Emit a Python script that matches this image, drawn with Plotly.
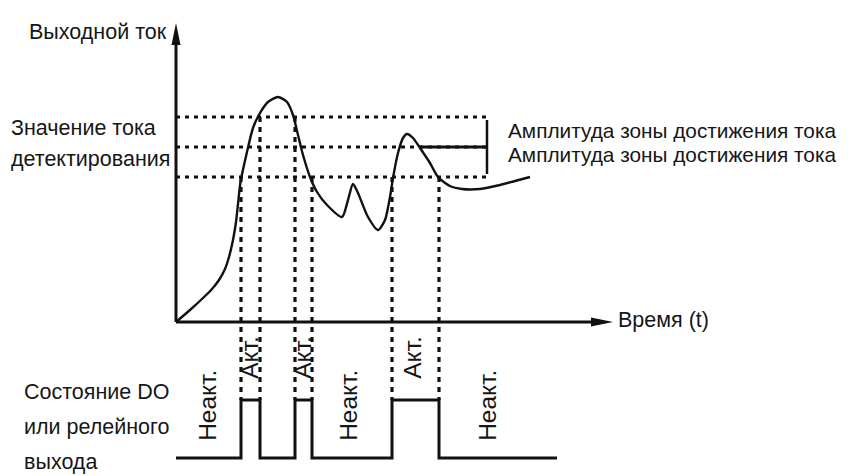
import plotly.graph_objects as go

# ---- data -----------------------------------------------------------------
# output current vs. time (arbitrary units; origin at the axes crossing)
t_curve = [0.0, 1.4, 2.7, 3.6, 4.3, 4.9, 5.3, 5.7, 6.0, 6.2, 6.45, 7.1, 7.7,
           8.4, 9.2, 10.2, 11.1, 11.7, 12.2, 12.7, 13.4, 14.1, 15.1, 16.6,
           17.2, 17.7, 18.2, 19.2, 20.2, 20.9, 21.4, 21.7, 22.2, 22.7, 23.1,
           23.7, 24.4, 25.4, 26.2, 27.4, 28.6, 30.4, 32.4, 33.9, 35.4]
i_curve = [0.0, 1.2, 2.4, 3.3, 4.2, 5.3, 6.5, 8.2, 10.0, 11.8, 14.0, 17.0,
           19.4, 20.9, 22.0, 22.5, 22.0, 20.7, 18.7, 16.7, 14.5, 13.0, 11.7,
           10.5, 12.2, 13.8, 12.9, 10.5, 9.2, 10.2, 12.5, 14.4, 16.9, 18.4,
           18.8, 18.4, 17.4, 15.9, 14.5, 13.6, 13.3, 13.3, 13.7, 14.1, 14.5]

detect_level = 17.5      # detection current value
zone_amp = 3.0           # amplitude of the current-reached zone

# moments when the current enters / leaves the zone and the edge crossed
switch_t = [6.5, 8.4, 11.9, 13.6, 21.6, 26.3]
switch_edge = [-1, 1, 1, -1, -1, -1]   # -1 lower edge, +1 upper edge

# DO / relay output state
relay_t = [0.0, 6.5, 8.4, 11.9, 13.6, 21.6, 26.3, 38.1]
relay_state = [0, 1, 0, 1, 0, 1, 0, 0]

state_text = ["Неакт.", "Акт.", "Акт.", "Неакт.", "Акт.", "Неакт."]
state_t = [3.2, 7.4, 12.7, 17.3, 23.7, 31.2]
state_on = [0, 1, 1, 0, 1, 0]

zone_end_t = 31.4        # right end of the level lines
bar_t = 31.1             # amplitude bracket position
hold_start_t = 24.4      # solid part of the detection level
t_axis_end = 43.7
i_axis_end = 29.9

# ---- geometry of the canvas ----------------------------------------------
W, H = 851, 476
X_RANGE = [-17.6, 67.5]
Y_RANGE = [-15.4, 32.2]
Y2_RANGE = [-0.31, 7.9]

INK = "#111111"
TXT = "#161616"
FONT = "Liberation Sans, Arial, sans-serif"


def y2_to_y(v):
    frac = (v - Y2_RANGE[0]) / (Y2_RANGE[1] - Y2_RANGE[0])
    return Y_RANGE[0] + frac * (Y_RANGE[1] - Y_RANGE[0])


fig = go.Figure()

dot = dict(color=INK, width=3.2, dash="4px,5px")

# zone edges and detection level (dotted)
for lvl in (detect_level + zone_amp, detect_level, detect_level - zone_amp):
    fig.add_trace(go.Scatter(x=[0, zone_end_t], y=[lvl, lvl], mode="lines",
                             line=dot, hoverinfo="skip"))

# vertical projections down to the relay diagram
relay_hi_y = y2_to_y(1)
for t, edge in zip(switch_t, switch_edge):
    fig.add_trace(go.Scatter(x=[t, t],
                             y=[detect_level + edge * zone_amp, relay_hi_y],
                             mode="lines",
                             line=dict(color=INK, width=3.2, dash="5px,5px"),
                             hoverinfo="skip"))

# solid detection level segment and amplitude bracket
fig.add_trace(go.Scatter(x=[hold_start_t, bar_t], y=[detect_level, detect_level],
                         mode="lines", line=dict(color=INK, width=3),
                         hoverinfo="skip"))
fig.add_trace(go.Scatter(x=[bar_t, bar_t],
                         y=[detect_level - zone_amp + 0.3, detect_level + zone_amp - 0.3],
                         mode="lines", line=dict(color=INK, width=2.5),
                         hoverinfo="skip"))

# axes
fig.add_trace(go.Scatter(x=[0, 0], y=[0, i_axis_end - 2.0], mode="lines",
                         line=dict(color=INK, width=3), hoverinfo="skip"))
fig.add_trace(go.Scatter(x=[0, t_axis_end - 2.0], y=[0, 0], mode="lines",
                         line=dict(color=INK, width=3), hoverinfo="skip"))

# output current curve
fig.add_trace(go.Scatter(x=t_curve, y=i_curve, mode="lines",
                         line=dict(color=INK, width=2.4, shape="spline",
                                   smoothing=0.7),
                         hoverinfo="skip"))

# relay state
fig.add_trace(go.Scatter(x=relay_t, y=relay_state, yaxis="y2", mode="lines",
                         line=dict(color=INK, width=3, shape="hv"),
                         hoverinfo="skip"))

# arrowheads
fig.add_shape(type="path", xref="x", yref="y", line=dict(width=0),
              fillcolor=INK,
              path=f"M -0.45 {i_axis_end - 2.2} L 0 {i_axis_end} "
                   f"L 0.45 {i_axis_end - 2.2} Z")
fig.add_shape(type="path", xref="x", yref="y", line=dict(width=0),
              fillcolor=INK,
              path=f"M {t_axis_end - 2.2} -0.45 L {t_axis_end} 0 "
                   f"L {t_axis_end - 2.2} 0.45 Z")

# ---- text ----------------------------------------------------------------
def label(text, x, y, xanchor="left", size=21.5):
    fig.add_annotation(text=text, x=x, y=y, xref="x", yref="y",
                       xanchor=xanchor, yanchor="middle", showarrow=False,
                       font=dict(family=FONT, size=size, color=TXT))


label("Выходной ток", -0.7, 29.0, xanchor="right")
label("Значение тока", -16.7, 19.4)
label("детектирования", -16.7, 16.3)
label("Амплитуда зоны достижения тока", 33.0, 19.2, size=20.8)
label("Амплитуда зоны достижения тока", 33.0, 16.8, size=20.8)
label("Время (t)", 44.0, 0.2)
label("Состояние DO", -15.4, -7.0)
label("или релейного", -15.4, -10.5)
label("выхода", -15.4, -14.0)

for txt, t, on in zip(state_text, state_t, state_on):
    fig.add_annotation(text=txt, x=t, y=1.73 if on else 0.9, xref="x",
                       yref="y2", xanchor="center", yanchor="middle",
                       showarrow=False, textangle=-90,
                       font=dict(family=FONT, size=24.5, color=TXT))

fig.update_layout(
    width=W, height=H,
    margin=dict(l=0, r=0, t=0, b=0),
    paper_bgcolor="white", plot_bgcolor="white",
    showlegend=False,
    xaxis=dict(range=X_RANGE, visible=False, fixedrange=True),
    yaxis=dict(range=Y_RANGE, visible=False, fixedrange=True),
    yaxis2=dict(range=Y2_RANGE, visible=False, overlaying="y",
                fixedrange=True),
)

fig.write_html("out.html", config={"displayModeBar": False})
